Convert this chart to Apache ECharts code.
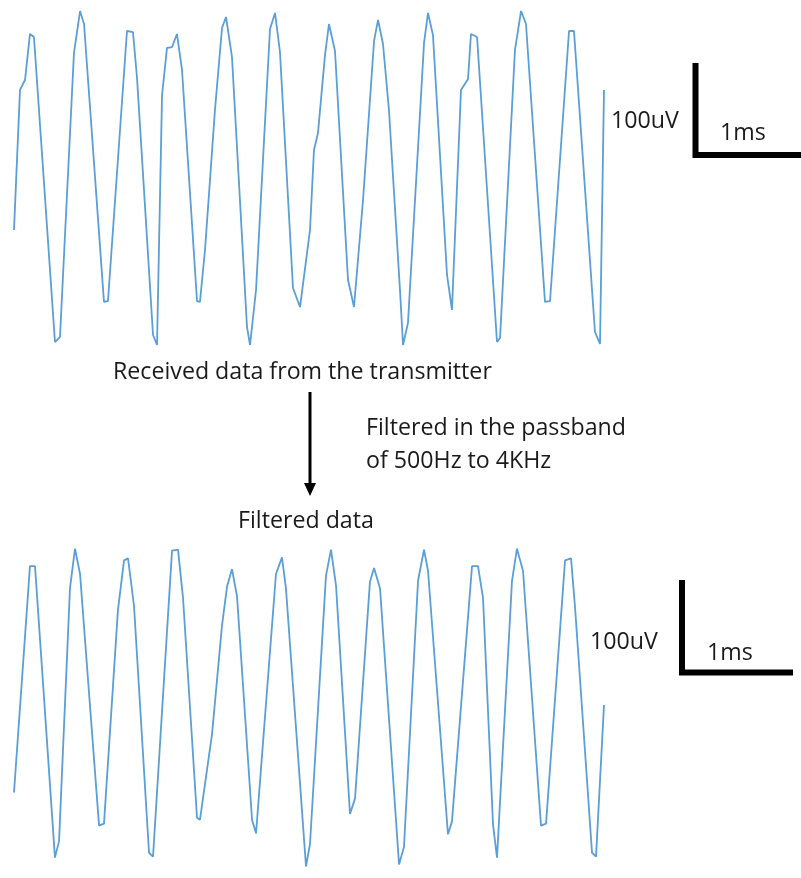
<!DOCTYPE html>
<html>
<head>
<meta charset="utf-8">
<script src="https://cdn.jsdelivr.net/npm/echarts@6/dist/echarts.min.js"></script>
<style>html,body{margin:0;padding:0;background:#fff}#c{width:801px;height:878px}</style>
</head>
<body>
<div id="c"></div>
<script>
// Received (raw) signal: time in ms, amplitude in uV
const rawTime = [0,0.057,0.105,0.152,0.190,0.390,0.438,0.571,0.629,0.667,0.857,0.895,1.076,1.133,1.171,1.324,1.362,1.410,1.457,1.505,1.552,1.600,1.743,1.771,1.819,1.914,1.981,2.019,2.076,2.219,2.248,2.305,2.438,2.486,2.533,2.657,2.724,2.819,2.857,2.895,2.962,3.000,3.057,3.181,3.238,3.324,3.429,3.467,3.514,3.571,3.676,3.705,3.752,3.905,3.943,3.990,4.124,4.171,4.257,4.324,4.352,4.410,4.600,4.629,4.771,4.829,4.876,5.057,5.105,5.286,5.333,5.533,5.581,5.619];
const rawValue = [-56.5,95.6,106.4,156.4,153.1,-178.1,-172.6,135.7,181.3,167.2,-134.6,-133.6,159.6,158.5,109.7,-170.5,-181.3,90.1,141.2,142.2,156.4,117.3,-133.6,-134.6,-78.2,73.8,162.9,174.8,131.4,-161.8,-181.3,-121.6,161.8,179.2,136.8,-119.4,-140.1,-56.5,30.4,48.9,133.6,167.2,137.9,-110.8,-140.1,-23.9,148.8,171.6,145.5,73.8,-121.6,-181.3,-157.4,146.6,179.2,155.3,-105.3,-143.3,95.6,107.5,156.4,153.1,-178.1,-173.7,139.0,181.3,167.2,-134.6,-133.6,159.6,159.6,-167.2,-180.2,95.6];
// Filtered signal (500Hz - 4KHz passband)
const filtTime = [0,0.152,0.200,0.390,0.429,0.533,0.581,0.629,0.810,0.857,0.990,1.048,1.086,1.143,1.286,1.324,1.505,1.562,1.610,1.743,1.771,1.886,1.981,2.029,2.076,2.124,2.267,2.305,2.495,2.552,2.590,2.781,2.819,2.971,3.019,3.067,3.200,3.248,3.390,3.429,3.486,3.667,3.714,3.848,3.905,3.943,4.133,4.171,4.362,4.419,4.467,4.562,4.600,4.743,4.790,4.848,5.019,5.067,5.248,5.305,5.343,5.505,5.543,5.619];
const filtValue = [-94.5,158.5,158.5,-167.2,-148.8,133.6,178.1,149.8,-131.4,-129.2,109.7,165.0,167.2,114.0,-161.8,-166.1,175.9,177.0,122.7,-122.7,-124.9,-29.3,92.3,135.7,155.3,124.9,-124.9,-140.1,149.8,168.3,133.6,-177.0,-152.0,147.7,177.0,136.8,-118.4,-101.0,141.2,156.4,133.6,-174.8,-155.3,142.2,177.0,153.1,-141.2,-127.0,158.5,158.5,122.7,-130.3,-167.2,142.2,178.1,153.1,-131.4,-129.2,165.0,167.2,112.9,-161.8,-166.1,3.3];
const captions = ['Received data from the transmitter','Filtered in the passband','of 500Hz to 4KHz','Filtered data'];
const scaleLabels = ['100uV','1ms'];

const pair = (t, v) => t.map((x, i) => [x, v[i]]);
const chart = echarts.init(document.getElementById('c'));
const FONT = '23.2px "Open Sans"';
const TXT = '#1a1a1a';
const axisX = i => ({type:'value', gridIndex:i, min:0, max:5.619, show:false});
const axisY = i => ({type:'value', gridIndex:i, min:-190, max:190, show:false});
const lineStyle = {color:'#5a9fd6', width:1.8};
chart.setOption({
  animation:false,
  backgroundColor:'#ffffff',
  grid:[{left:14, top:3, width:590, height:350},{left:14, top:538, width:590, height:350}],
  xAxis:[axisX(0), axisX(1)],
  yAxis:[axisY(0), axisY(1)],
  series:[
    {type:'line', xAxisIndex:0, yAxisIndex:0, data:pair(rawTime, rawValue), showSymbol:false, lineStyle},
    {type:'line', xAxisIndex:1, yAxisIndex:1, data:pair(filtTime, filtValue), showSymbol:false, lineStyle}
  ],
  graphic:[
    {type:'text', style:{text:captions[0], x:113, y:372, font:FONT, fill:TXT, textVerticalAlign:'middle'}},
    {type:'text', style:{text:captions[1], x:366, y:428, font:FONT, fill:TXT, textVerticalAlign:'middle'}},
    {type:'text', style:{text:captions[2], x:366, y:461, font:FONT, fill:TXT, textVerticalAlign:'middle'}},
    {type:'text', style:{text:captions[3], x:238, y:521, font:FONT, fill:TXT, textVerticalAlign:'middle'}},
    {type:'line', shape:{x1:310, y1:392, x2:310, y2:484}, style:{stroke:'#000', lineWidth:3}},
    {type:'polygon', shape:{points:[[304,483],[316,483],[310,496]]}, style:{fill:'#000'}},
    {type:'polyline', shape:{points:[[695.5,63],[695.5,155],[801,155]]}, style:{stroke:'#000', lineWidth:6, fill:null}},
    {type:'text', style:{text:scaleLabels[0], x:611, y:121, font:FONT, fill:TXT, textVerticalAlign:'middle'}},
    {type:'text', style:{text:scaleLabels[1], x:720, y:133, font:FONT, fill:TXT, textVerticalAlign:'middle'}},
    {type:'polyline', shape:{points:[[682,580],[682,672.5],[793,672.5]]}, style:{stroke:'#000', lineWidth:6, fill:null}},
    {type:'text', style:{text:scaleLabels[0], x:590, y:642, font:FONT, fill:TXT, textVerticalAlign:'middle'}},
    {type:'text', style:{text:scaleLabels[1], x:707, y:653, font:FONT, fill:TXT, textVerticalAlign:'middle'}}
  ]
});
</script>
</body>
</html>
